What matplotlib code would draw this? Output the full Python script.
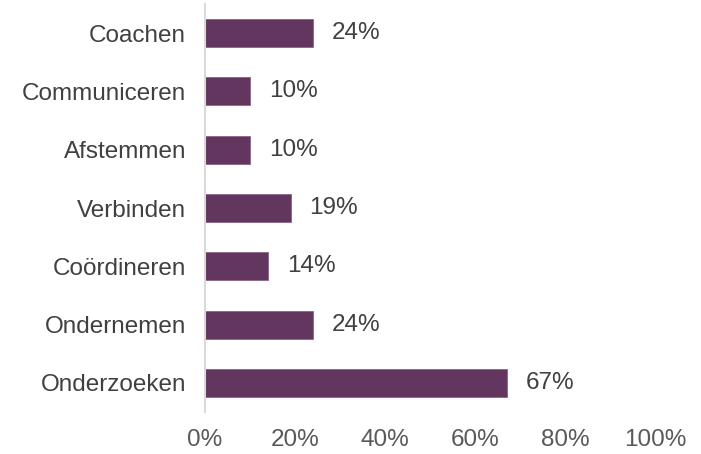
import numpy as np
import matplotlib.pyplot as plt

plt.rcParams['font.family'] = ['Liberation Sans', 'DejaVu Sans']

categories = ["Coachen", "Communiceren", "Afstemmen", "Verbinden",
              "Coördineren", "Ondernemen", "Onderzoeken"]
values = [24, 10, 10, 19, 14, 24, 67]
xticks = [0, 20, 40, 60, 80, 100]

fig = plt.figure(figsize=(7.01, 4.54), dpi=100)
ax = fig.add_axes([205 / 701, 42 / 454, 450 / 701, 408 / 454])

y = np.arange(len(categories))[::-1]
ax.barh(y, values, height=0.48, color="#63365f", edgecolor="#8a6487", linewidth=0.6)
for yi, v in zip(y, values):
    ax.text(v + 4.2, yi, f"{v}%", va="center", ha="left", fontsize=17.5, color="#404040")

ax.set_xlim(0, 100)
ax.set_ylim(-0.5, len(categories) - 0.5)
ax.set_yticks(y)
ax.set_yticklabels(categories, fontsize=17.5, color="#404040")
ax.set_xticks(xticks)
ax.set_xticklabels([f"{t}%" for t in xticks], fontsize=17.5, color="#595959")
ax.tick_params(axis="both", length=0)
ax.tick_params(axis="y", pad=13.5)
ax.tick_params(axis="x", pad=12)
for s in ["top", "right", "bottom"]:
    ax.spines[s].set_visible(False)
ax.spines["left"].set_color("#d9d9d9")
ax.spines["left"].set_linewidth(1.5)

fig.set_facecolor("white")
plt.savefig("out.png", dpi=100)
